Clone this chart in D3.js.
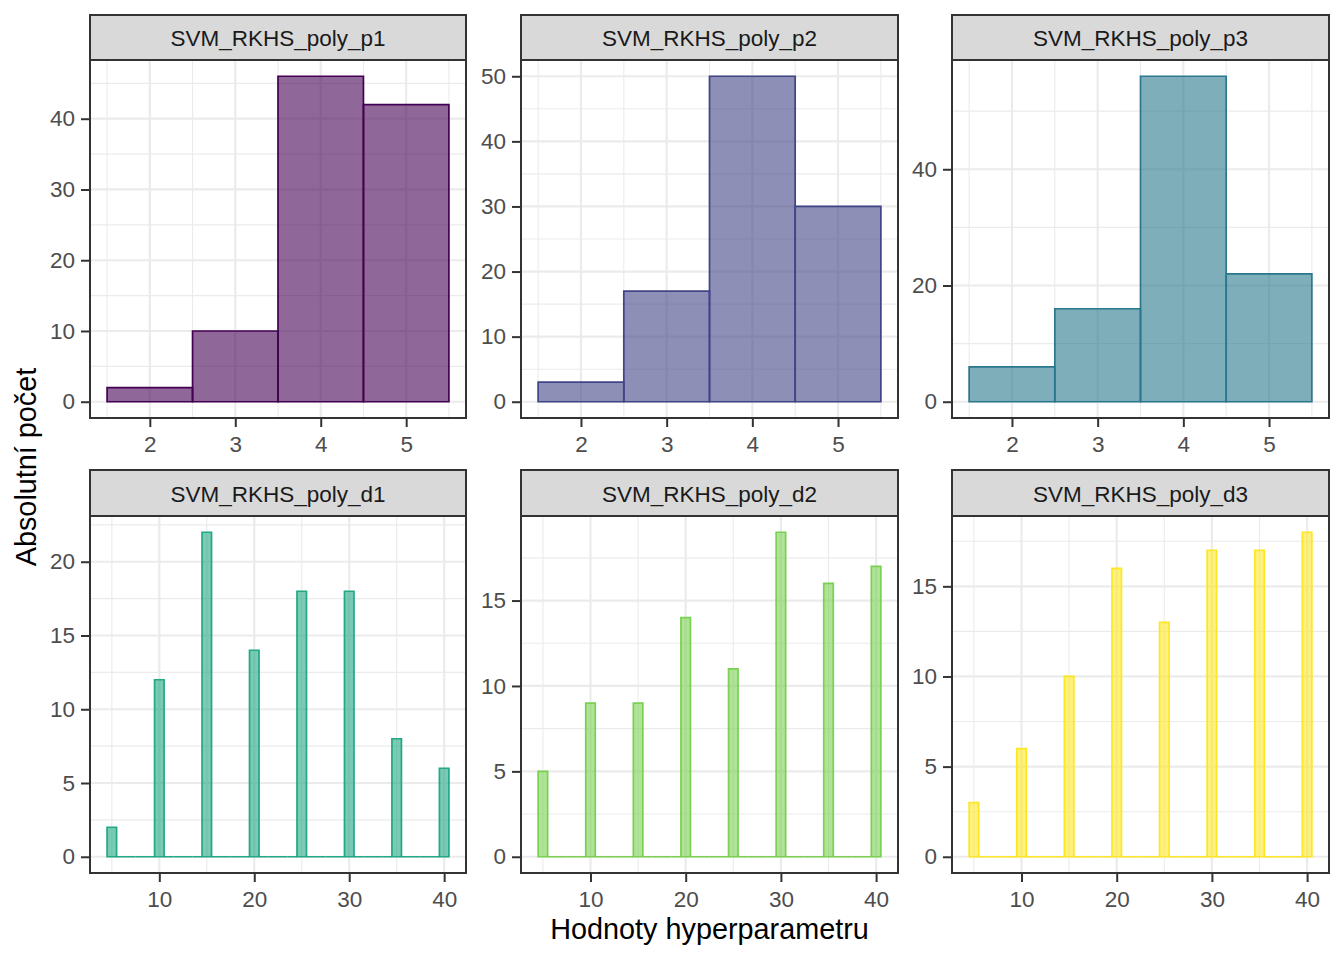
<!DOCTYPE html>
<html>
<head>
<meta charset="utf-8">
<script src="https://cdn.jsdelivr.net/npm/d3@7"></script>
<style>
  body { margin: 0; background: #ffffff; }
  text { font-family: "Liberation Sans", Arial, sans-serif; }
</style>
</head>
<body>
<div id="chart"></div>
<script>
// Facet labels, one per histogram
const facetNames = ["SVM_RKHS_poly_p1", "SVM_RKHS_poly_p2", "SVM_RKHS_poly_p3",
                    "SVM_RKHS_poly_d1", "SVM_RKHS_poly_d2", "SVM_RKHS_poly_d3"];

// Hyperparameter values that were picked
const pValues = [2, 3, 4, 5];
const dValues = [5, 10, 15, 20, 25, 30, 35, 40];

// How many times each value was picked
const p1Counts = [2, 10, 46, 42];
const p2Counts = [3, 17, 50, 30];
const p3Counts = [6, 16, 56, 22];
const d1Counts = [2, 12, 22, 14, 18, 18, 8, 6];
const d2Counts = [5, 9, 9, 14, 11, 19, 16, 17];
const d3Counts = [3, 6, 10, 16, 13, 17, 17, 18];

// Tick labels
const pTicksX = [2, 3, 4, 5];
const dTicksX = [10, 20, 30, 40];
const yTicksP1 = [0, 10, 20, 30, 40];
const yTicksP2 = [0, 10, 20, 30, 40, 50];
const yTicksP3 = [0, 20, 40];
const yTicksD1 = [0, 5, 10, 15, 20];
const yTicksD2 = [0, 5, 10, 15];
const yTicksD3 = [0, 5, 10, 15];

// viridis(6)
const colors = ["#440154", "#414487", "#2A788E", "#22A884", "#7AD151", "#FDE725"];

const width = 1344, height = 960;
const binWidth = 1;
const smallFont = "22.5px", titleFont = "28.8px";

// panel boxes (column x extents and row y extents)
let cols = [[90, 466], [521, 898], [952, 1329]];
let rows = [{strip: 15, top: 60, bottom: 418}, {strip: 470, top: 516, bottom: 873}];

let facets = [
    {values: pValues, counts: p1Counts, xTicks: pTicksX, yTicks: yTicksP1, full: false},
    {values: pValues, counts: p2Counts, xTicks: pTicksX, yTicks: yTicksP2, full: false},
    {values: pValues, counts: p3Counts, xTicks: pTicksX, yTicks: yTicksP3, full: false},
    {values: dValues, counts: d1Counts, xTicks: dTicksX, yTicks: yTicksD1, full: true},
    {values: dValues, counts: d2Counts, xTicks: dTicksX, yTicks: yTicksD2, full: true},
    {values: dValues, counts: d3Counts, xTicks: dTicksX, yTicks: yTicksD3, full: true}
];

let svg = d3.select("#chart")
    .append("svg")
    .attr("width", width)
    .attr("height", height);

// midpoints between major ticks, extended one step outward
function minorTicks(ticks) {
    let step = ticks[1] - ticks[0];
    let out = [];
    for (let v = ticks[0] - step / 2; v <= ticks[ticks.length - 1] + step; v += step) out.push(v);
    return out;
}

facets.forEach(function(f, i) {
    let col = cols[i % 3], row = rows[Math.floor(i / 3)];
    let color = colors[i];

    // histogram bins; the d facets also get the empty bins in between
    let bins;
    if (f.full) {
        bins = d3.range(f.values[0], f.values[f.values.length - 1] + 1).map(function(v) {
            let k = f.values.indexOf(v);
            return {x0: v - binWidth / 2, x1: v + binWidth / 2, count: k >= 0 ? f.counts[k] : 0};
        });
    } else {
        bins = f.values.map(function(v, k) {
            return {x0: v - binWidth / 2, x1: v + binWidth / 2, count: f.counts[k]};
        });
    }

    // ggplot style 5% expansion
    let xmin = bins[0].x0, xmax = bins[bins.length - 1].x1;
    let xpad = (xmax - xmin) * 0.05;
    let ymax = d3.max(bins, function(d) { return d.count; });
    let x = d3.scaleLinear().domain([xmin - xpad, xmax + xpad]).range(col);
    let y = d3.scaleLinear().domain([-ymax * 0.05, ymax * 1.05]).range([row.bottom, row.top]);

    let g = svg.append("g");
    g.append("rect")
        .attr("x", col[0]).attr("y", row.top)
        .attr("width", col[1] - col[0]).attr("height", row.bottom - row.top)
        .attr("fill", "#ffffff");

    // grid lines
    let yMinor = minorTicks(f.yTicks).filter(function(v) { return y(v) > row.top && y(v) < row.bottom; });
    let xMinor = minorTicks(f.xTicks).filter(function(v) { return x(v) > col[0] && x(v) < col[1]; });
    g.selectAll(".ymin").data(yMinor).enter().append("line")
        .attr("x1", col[0]).attr("x2", col[1])
        .attr("y1", function(d) { return y(d); }).attr("y2", function(d) { return y(d); })
        .attr("stroke", "#EBEBEB").attr("stroke-width", 1.1);
    g.selectAll(".xmin").data(xMinor).enter().append("line")
        .attr("y1", row.top).attr("y2", row.bottom)
        .attr("x1", function(d) { return x(d); }).attr("x2", function(d) { return x(d); })
        .attr("stroke", "#EBEBEB").attr("stroke-width", 1.1);
    g.selectAll(".ymaj").data(f.yTicks).enter().append("line")
        .attr("x1", col[0]).attr("x2", col[1])
        .attr("y1", function(d) { return y(d); }).attr("y2", function(d) { return y(d); })
        .attr("stroke", "#EBEBEB").attr("stroke-width", 2.2);
    g.selectAll(".xmaj").data(f.xTicks).enter().append("line")
        .attr("y1", row.top).attr("y2", row.bottom)
        .attr("x1", function(d) { return x(d); }).attr("x2", function(d) { return x(d); })
        .attr("stroke", "#EBEBEB").attr("stroke-width", 2.2);

    // bars as paths so that empty bins still show their outline on 0
    g.selectAll(".bar").data(bins).enter().append("path")
        .attr("d", function(d) {
            return `M${x(d.x0)},${y(0)}V${y(d.count)}H${x(d.x1)}V${y(0)}Z`;
        })
        .attr("fill", color)
        .attr("fill-opacity", 0.6)
        .attr("stroke", color)
        .attr("stroke-width", 1.7)
        .attr("stroke-linejoin", "miter");

    // panel border
    g.append("rect")
        .attr("x", col[0]).attr("y", row.top)
        .attr("width", col[1] - col[0]).attr("height", row.bottom - row.top)
        .attr("fill", "none").attr("stroke", "#333333").attr("stroke-width", 2);

    // strip
    g.append("rect")
        .attr("x", col[0]).attr("y", row.strip)
        .attr("width", col[1] - col[0]).attr("height", row.top - row.strip)
        .attr("fill", "#D9D9D9").attr("stroke", "#333333").attr("stroke-width", 2);
    g.append("text")
        .attr("x", (col[0] + col[1]) / 2)
        .attr("y", (row.strip + row.top) / 2 + 8.5)
        .attr("text-anchor", "middle")
        .style("font-size", smallFont)
        .attr("fill", "#1A1A1A")
        .text(facetNames[i]);

    // axes
    let yAxis = g.append("g")
        .attr("transform", `translate(${col[0] - 1}, 0)`)
        .call(d3.axisLeft(y).tickValues(f.yTicks).tickFormat(d3.format("d")).tickSize(8).tickPadding(6));
    let xAxis = g.append("g")
        .attr("transform", `translate(0, ${row.bottom + 1})`)
        .call(d3.axisBottom(x).tickValues(f.xTicks).tickFormat(d3.format("d")).tickSize(8).tickPadding(9));
    [xAxis, yAxis].forEach(function(a) {
        a.select(".domain").remove();
        a.selectAll("line").attr("stroke", "#333333").attr("stroke-width", 2);
        a.selectAll("text")
            .attr("fill", "#4D4D4D")
            .style("font-size", smallFont)
            .style("font-family", "'Liberation Sans', Arial, sans-serif");
    });
});

// axis titles
svg.append("text")
    .attr("x", (cols[0][0] + cols[2][1]) / 2)
    .attr("y", 939)
    .attr("text-anchor", "middle")
    .style("font-size", titleFont)
    .attr("fill", "#000000")
    .text("Hodnoty hyperparametru");

svg.append("text")
    .attr("transform", "translate(36, 467) rotate(-90)")
    .attr("text-anchor", "middle")
    .style("font-size", titleFont)
    .attr("fill", "#000000")
    .text("Absolutní počet");
</script>
</body>
</html>
